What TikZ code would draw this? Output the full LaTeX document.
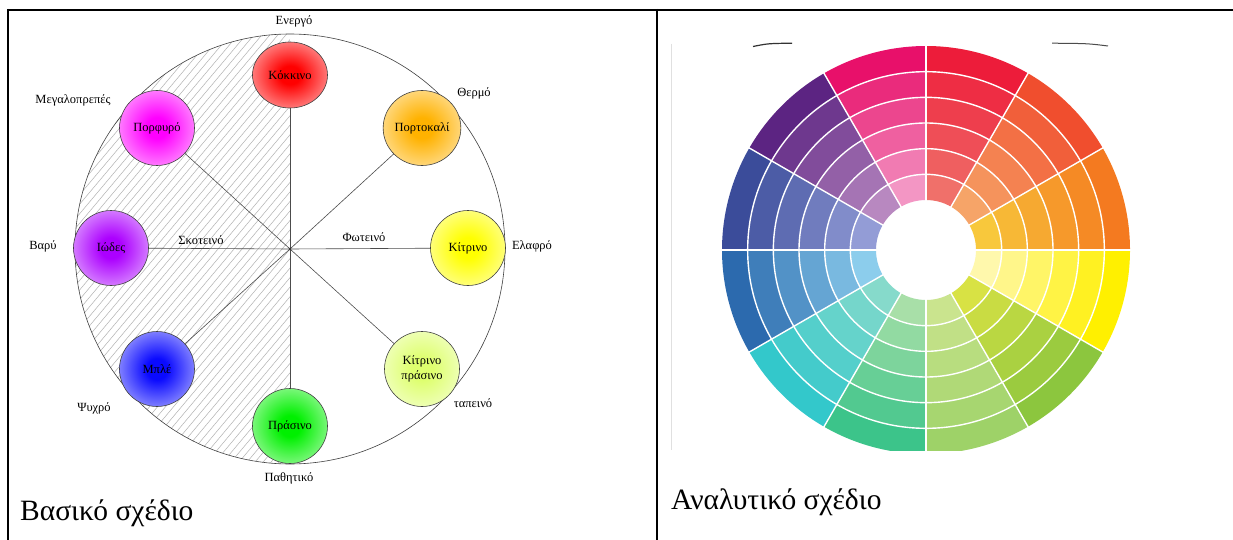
\documentclass[tikz,border=0pt]{standalone}
\usepackage{fontspec}
\setmainfont{Liberation Serif}
\usetikzlibrary{shapes.geometric}
\newcommand\mkball[2]{%
  \definecolor{c#1}{RGB}{#2}%
  \colorlet{c#1M}{c#1!45!white}%
  \colorlet{c#1E}{c#1!6!white}%
  \pgfdeclareradialshading{b#1}{\pgfpointorigin}{color(0bp)=(c#1); color(7bp)=(c#1); color(28bp)=(c#1M); color(50bp)=(c#1E)}}
\mkball{Red}{255,0,0}
\mkball{Porf}{255,0,255}
\mkball{Port}{255,178,0}
\mkball{Iod}{172,0,255}
\mkball{Kit}{255,255,0}
\mkball{Mpl}{10,10,255}
\mkball{KitPr}{222,255,110}
\mkball{Pra}{0,240,0}
\begin{document}
\begin{tikzpicture}[x=1pt,y=-1pt,
  cnode/.style={ellipse, draw=black!75, line width=0.6pt, inner sep=0pt,
    minimum width=75, minimum height=75, align=center,
    font=\fontsize{12.5}{15}\selectfont},
  lbl/.style={inner sep=0pt, font=\fontsize{12.5}{14}\selectfont},
  spoke/.style={draw=black!70, line width=0.6pt},
  hatch/.style={draw=black!30, line width=0.5pt},
  wline/.style={white, line width=1.4pt},
  caption/.style={inner sep=0pt, anchor=base west, font=\fontsize{29.5}{33}\selectfont}]
\useasboundingbox (0,0) rectangle (1233,540);
\fill[white] (0,0) rectangle (1233,540);

% table borders
\draw[line width=2pt] (7,10) -- (22,10);
\draw[line width=1.2pt] (22,10) -- (560,10);
\draw[line width=2pt] (560,10) -- (1233,10);
\draw[line width=2pt] (8,9) -- (8,541);
\draw[line width=2pt] (657,9) -- (657,541);

% ---------- left: basic wheel ----------
\coordinate (c) at (290,249);
\begin{scope}
  \clip (290,464) arc[start angle=90, end angle=270, radius=215] -- cycle;
  \foreach \x in {-320,-312,...,300}
    \draw[hatch] (\x,480) -- ++(378,-450);
\end{scope}
\draw[draw=black!75, line width=0.6pt] (c) circle[radius=215];

\node[cnode, minimum height=66, shading=bRed]   (kok)  at (290,75)  {Κόκκινο};
\node[cnode, shading=bPorf]  (porf) at (157,128) {Πορφυρό};
\node[cnode, shading=bPort]  (port) at (422,128) {Πορτοκαλί};
\node[cnode, shading=bIod]   (iod)  at (111,248) {Ιώδες};
\node[cnode, shading=bKit]   (kit)  at (468,248) {Κίτρινο};
\node[cnode, shading=bMpl]   (mple) at (157,369) {Μπλέ};
\node[cnode, shading=bKitPr] (kpr)  at (422,369) {Κίτρινο\\πράσινο};
\node[cnode, shading=bPra]   (pra)  at (290,426) {Πράσινο};

\foreach \n in {kok,porf,port,iod,kit,mple,kpr,pra}
  \draw[spoke] (c) -- (\n);
\fill[black!80] (c) circle[radius=1.3];

\node[lbl] (l1) at (294,21)  {Ενεργό};
\node[lbl] (l2) at (474,93)  {Θερμό};
\node[lbl] (l3) at (73,100)  {Μεγαλοπρεπές};
\node[lbl] (l4) at (43,246)  {Βαρύ};
\node[lbl] (l5) at (201,240) {Σκοτεινό};
\node[lbl] (l6) at (364,237) {Φωτεινό};
\node[lbl] (l7) at (532,246) {Ελαφρό};
\node[lbl] (l8) at (94,408)  {Ψυχρό};
\node[lbl] (l9) at (473,403) {ταπεινό};
\node[lbl] (l10) at (289,478) {Παθητικό};

\node[caption] (cap1) at (20,520) {Βασικό σχέδιο};

% ---------- right: detailed wheel ----------
\draw[black!12, line width=0.6pt] (671,44) -- (671,450);
\begin{scope}
  \clip (660,44) rectangle (1233,450);
  \begin{scope}[shift={(926,250)}, y=1pt]
    \foreach \a/\co/\ci in {
        0/F47A20/F8C83C, 30/F04E2E/F6A468, 60/ED1C3A/F0706A,
        90/E8106A/F396C4, 120/5C2482/B888C0, 150/3B4C9A/939CD6,
        180/2C6AAE/8CCDEC, 210/33C8CB/86DACB, 240/3CC48A/A8DFA8,
        270/9ED268/CAE48E, 300/8CC63E/D8E244, 330/FFF000/FFF8AC} {
      \definecolor{wo}{HTML}{\co}
      \definecolor{wi}{HTML}{\ci}
      \foreach \k in {0,...,5} {
        \pgfmathsetmacro\ra{50+\k*25.667}
        \pgfmathsetmacro\rb{50+(\k+1)*25.667}
        \pgfmathtruncatemacro\p{\k*20}
        \colorlet{wr}{wo!\p!wi}
        \fill[wr] (\a:\ra) arc[start angle=\a, end angle=\a+30, radius=\ra]
          -- (\a+30:\rb) arc[start angle=\a+30, end angle=\a, radius=\rb] -- cycle;
      }
    }
    \foreach \k in {1,...,5}
      \draw[wline] (0,0) circle[radius=50+\k*25.667];
    \foreach \a in {0,30,...,330}
      \draw[wline] (\a:49) -- (\a:205);
  \end{scope}
\end{scope}
\draw[black!80, line width=1.2pt] (753,46.5) .. controls (768,43.5) .. (792,43.2);
\draw[black!70, line width=1pt] (1052,43.2) .. controls (1088,43.5) .. (1108,46);

\node[caption] (cap2) at (671,509) {Αναλυτικό σχέδιο};
\end{tikzpicture}
\end{document}
